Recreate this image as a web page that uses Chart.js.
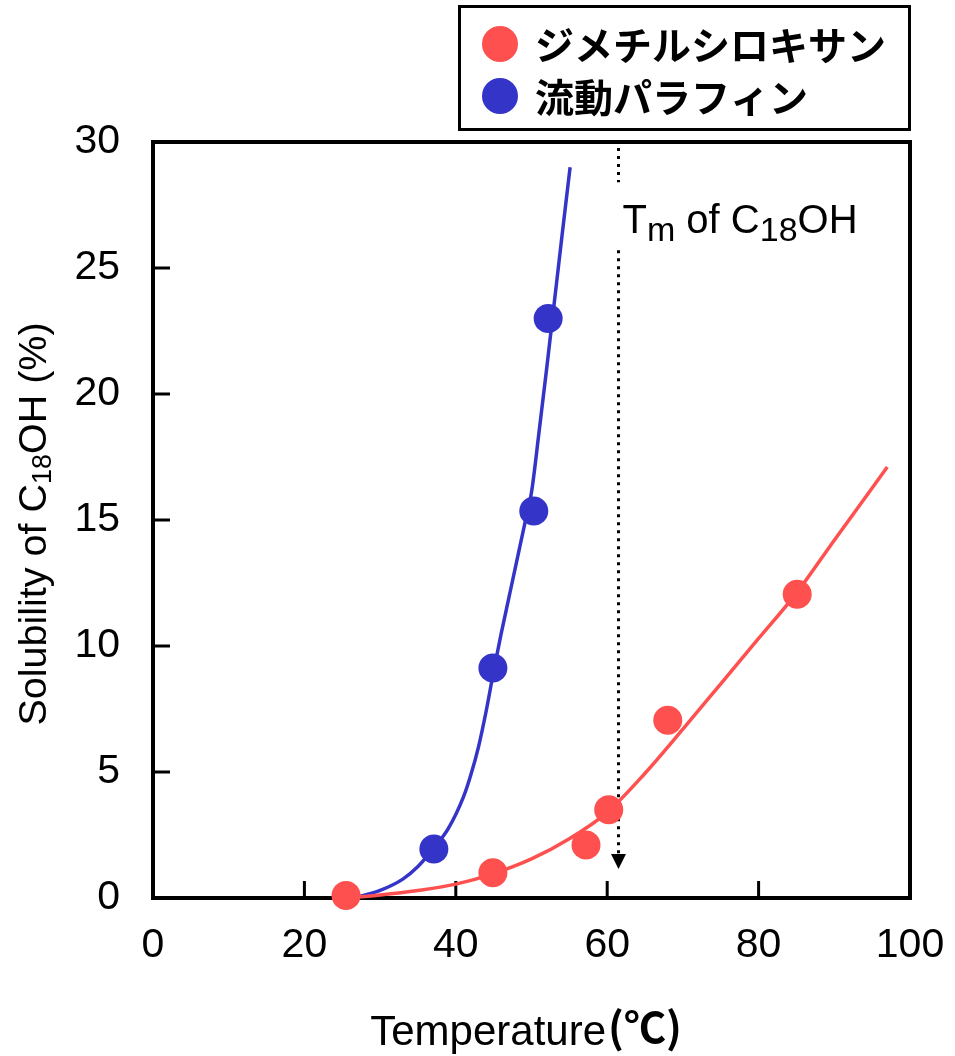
<!DOCTYPE html>
<html><head><meta charset="utf-8">
<script src="https://cdn.jsdelivr.net/npm/chart.js@4.4.0/dist/chart.umd.min.js"></script>
<style>html,body{margin:0;padding:0;background:#fff;}#wrap{width:955px;height:1056px;position:relative;}canvas{display:block;}</style>
</head><body><div id="wrap"><canvas id="c" width="955" height="1056" style="width:955px;height:1056px"></canvas></div>
<script>
const xTicks = [0, 20, 40, 60, 80, 100];
const yTicks = [0, 5, 10, 15, 20, 25, 30];
const seriesNames = ['ジメチルシロキサン', '流動パラフィン'];
const dimethylX = [25.5, 44.9, 57.2, 60.2, 68.0, 85.1];
const dimethylY = [0.1, 1.0, 2.1, 3.5, 7.05, 12.05];
const paraffinX = [37.1, 44.9, 50.3, 52.2];
const paraffinY = [1.94, 9.13, 15.36, 23.0];
const dimethylFitX = [25.5, 30, 35, 40, 45, 50, 55, 60, 65, 70, 75, 80, 85, 90, 97];
const dimethylFitY = [0, 0.12, 0.3, 0.55, 0.97, 1.55, 2.35, 3.4, 4.95, 6.7, 8.5, 10.3, 12.1, 14.2, 17.1];
const paraffinFitX = [26.5, 30, 33, 35, 37, 39, 41, 42, 43, 44, 45, 46, 47, 48, 49, 50, 51, 52, 53, 54, 55.1];
const paraffinFitY = [0, 0.3, 0.75, 1.25, 1.95, 2.75, 4.0, 4.9, 6.0, 7.4, 9.0, 10.5, 11.9, 13.3, 14.7, 16.1, 18.5, 21.0, 23.6, 26.2, 29.0];
const tmX = 61.4;
const tmArrowTipY = 1.15;
const tmGapY = [28.4, 25.7];
const tmLabelY = 26.4;

const RED = '#FF5050', BLUE = '#3434C9';
const LATIN = '"Liberation Sans", Arial, sans-serif';
const CJK = '"Noto Sans CJK JP", sans-serif';

const zip = (xs, ys) => xs.map((v, i) => ({x: v, y: ys[i]}));

const deco = {
  id: 'deco',
  beforeDatasetsDraw(chart) {
    const {ctx, chartArea: a, scales: {x, y}} = chart;
    ctx.save();
    ctx.strokeStyle = '#000';
    ctx.lineWidth = 4;
    ctx.strokeRect(a.left, a.top, a.right - a.left, a.bottom - a.top);
    ctx.lineWidth = 3;
    x.ticks.forEach(t => {
      if (t.value <= x.min || t.value >= x.max) return;
      const px = x.getPixelForValue(t.value);
      ctx.beginPath(); ctx.moveTo(px, a.bottom); ctx.lineTo(px, a.bottom - 17); ctx.stroke();
    });
    y.ticks.forEach(t => {
      if (t.value <= y.min || t.value >= y.max) return;
      const py = y.getPixelForValue(t.value);
      ctx.beginPath(); ctx.moveTo(a.left, py); ctx.lineTo(a.left + 17, py); ctx.stroke();
    });
    // Tm dotted line with arrow
    const tx = Math.round(x.getPixelForValue(tmX)) + 0.5;
    const tip = y.getPixelForValue(tmArrowTipY);
    ctx.setLineDash([3, 5]);
    ctx.lineWidth = 3;
    ctx.beginPath();
    ctx.moveTo(tx, a.top + 6); ctx.lineTo(tx, y.getPixelForValue(tmGapY[0]));
    ctx.moveTo(tx, y.getPixelForValue(tmGapY[1])); ctx.lineTo(tx, tip - 14);
    ctx.stroke();
    ctx.setLineDash([]);
    ctx.fillStyle = '#000';
    ctx.beginPath();
    ctx.moveTo(tx - 7.5, tip - 15); ctx.lineTo(tx + 7.5, tip - 15); ctx.lineTo(tx, tip); ctx.closePath();
    ctx.fill();
    // Tm label
    const by = y.getPixelForValue(tmLabelY);
    let cx = tx + 4;
    const parts = [['T', 40, 0], ['m', 34, 8], [' of C', 40, 0], ['18', 34, 8], ['OH', 40, 0]];
    ctx.textBaseline = 'alphabetic';
    ctx.textAlign = 'left';
    parts.forEach(([s, f, d]) => {
      ctx.font = f + 'px ' + LATIN;
      ctx.fillText(s, cx, by + d);
      cx += ctx.measureText(s).width;
    });
    ctx.restore();
  },
  afterDraw(chart) {
    const {ctx, chartArea: a} = chart;
    ctx.save();
    // legend
    ctx.strokeStyle = '#000';
    ctx.lineWidth = 3;
    ctx.strokeRect(459.5, 6.5, 450, 123);
    const items = chart.data.datasets.filter(d => d.inLegend);
    items.forEach((d, i) => {
      const cy = 44 + i * 52;
      ctx.fillStyle = d.backgroundColor;
      ctx.beginPath(); ctx.arc(500, cy, 18, 0, Math.PI * 2); ctx.fill();
      ctx.fillStyle = '#000';
      ctx.font = 'bold 39px ' + CJK;
      ctx.textBaseline = 'middle';
      ctx.textAlign = 'left';
      ctx.fillText(d.label, 535, cy + 1);
    });
    // y axis title
    ctx.save();
    ctx.translate(46, (a.top + a.bottom) / 2 + 4);
    ctx.rotate(-Math.PI / 2);
    ctx.fillStyle = '#000';
    ctx.textBaseline = 'alphabetic';
    ctx.textAlign = 'left';
    const yp = [['Solubility of C', 39.5, 0], ['18', 27, 5], ['OH (%)', 39.5, 0]];
    let tw = 0;
    yp.forEach(([s, f]) => { ctx.font = f + 'px ' + LATIN; tw += ctx.measureText(s).width; });
    let cx = -tw / 2;
    yp.forEach(([s, f, d]) => { ctx.font = f + 'px ' + LATIN; ctx.fillText(s, cx, d); cx += ctx.measureText(s).width; });
    ctx.restore();
    // x axis title
    ctx.fillStyle = '#000';
    ctx.textBaseline = 'alphabetic';
    ctx.textAlign = 'left';
    ctx.font = '42px ' + LATIN;
    const t1 = 'Temperature';
    const w1 = ctx.measureText(t1).width;
    ctx.font = 'bold 42px ' + CJK;
    const t2 = '(℃)';
    const w2 = ctx.measureText(t2).width;
    const sx = 525 - (w1 + w2) / 2;
    ctx.font = '42px ' + LATIN;
    ctx.fillText(t1, sx, 1045);
    ctx.font = 'bold 42px ' + CJK;
    ctx.fillText(t2, sx + w1 + 2, 1043);
    ctx.restore();
  }
};

new Chart(document.getElementById('c'), {
  type: 'scatter',
  data: {
    datasets: [
      {label: seriesNames[0], inLegend: true, data: zip(dimethylX, dimethylY), backgroundColor: RED, borderColor: RED, pointRadius: 14.5, pointBorderWidth: 0, showLine: false, clip: false},
      {label: seriesNames[1], inLegend: true, data: zip(paraffinX, paraffinY), backgroundColor: BLUE, borderColor: BLUE, pointRadius: 14.5, pointBorderWidth: 0, showLine: false, clip: false},
      {label: seriesNames[0] + ' fit', data: zip(dimethylFitX, dimethylFitY), borderColor: RED, backgroundColor: RED, showLine: true, pointRadius: 0, borderWidth: 3.5, cubicInterpolationMode: 'monotone', clip: false},
      {label: seriesNames[1] + ' fit', data: zip(paraffinFitX, paraffinFitY), borderColor: BLUE, backgroundColor: BLUE, showLine: true, pointRadius: 0, borderWidth: 3.5, cubicInterpolationMode: 'monotone', clip: false}
    ]
  },
  options: {
    responsive: false,
    animation: false,
    devicePixelRatio: 1,
    layout: {padding: {top: 142, right: 45, left: 0, bottom: 0}},
    plugins: {legend: {display: false}, tooltip: {enabled: false}},
    scales: {
      x: {
        type: 'linear', min: 0, max: 100,
        afterBuildTicks: s => { s.ticks = xTicks.map(v => ({value: v})); },
        afterFit: s => { s.height = 158; s.paddingLeft = 0; s.paddingRight = 0; },
        grid: {display: false, drawTicks: false},
        border: {display: false},
        ticks: {color: '#000', padding: 23, font: {family: LATIN, size: 41}, maxRotation: 0, autoSkip: false}
      },
      y: {
        type: 'linear', min: 0, max: 30,
        afterBuildTicks: s => { s.ticks = yTicks.map(v => ({value: v})); },
        afterFit: s => { s.width = 153; s.paddingTop = 0; s.paddingBottom = 0; },
        grid: {display: false, drawTicks: false},
        border: {display: false},
        ticks: {color: '#000', padding: 33, font: {family: LATIN, size: 41}, autoSkip: false}
      }
    }
  },
  plugins: [deco]
});
</script>
</body></html>
